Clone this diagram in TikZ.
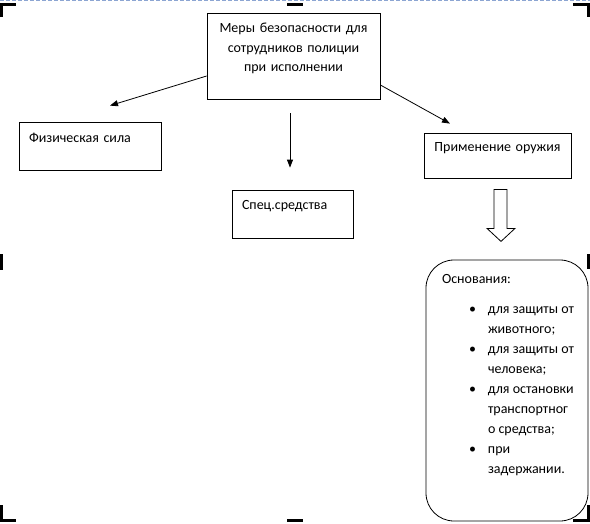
\documentclass[tikz,border=0pt]{standalone}
\usepackage{fontspec}
\setmainfont{Carlito}
\usepackage{tikz}
\usetikzlibrary{positioning,arrows.meta}
\definecolor{ramka}{RGB}{140,165,210}

\begin{document}
\begin{tikzpicture} [x=1pt, y=-1pt, line width=0.8pt,
                    font=\fontsize{14}{19.5}\selectfont,
                    blok/.style={draw,rectangle,inner xsep=10pt,inner ysep=4pt,execute at end node={\\[-8pt]\strut}},
                    strel/.style={-{Triangle[length=8pt,width=6pt]}},
                    metka/.style={line width=3pt}]

\useasboundingbox (0,0) rectangle (590,523);

\node[blok, align=center, text width=153pt, minimum height=86pt] (mery) at (293.5,56)
    {Меры безопасности для\\сотрудников полиции\\при исполнении};
\node[blok, align=left, text width=122pt, minimum height=48pt] (fiz) at (90,146) {Физическая сила};
\node[blok, align=left, text width=101pt, minimum height=48pt] (spec) at (292.5,214) {Спец.средства};
\node[blok, align=center, text width=139pt, inner xsep=4pt, minimum height=45pt] (prim) at (497.5,155.5) {Применение оружия};

 \draw[strel] ([yshift=-20pt]mery.west) -- ([xshift=20pt,yshift=16pt]fiz.north);
 \draw[strel] ([xshift=-3.5pt,yshift=-14pt]mery.south) -- ([xshift=-2.5pt,yshift=22pt]spec.north);
 \draw[strel] ([yshift=-29pt]mery.east) -- ([xshift=-47.5pt,yshift=9pt]prim.north);

% hollow arrow under prim
\draw[shift={(prim.south)}] (-3.5,11) -- (9.5,11) -- (9.5,50) -- (17.5,50) -- (3.5,63)
    -- (-10.5,50) -- (-3.5,50) -- cycle;

\node[draw, rounded corners=28pt, minimum width=162pt, minimum height=261pt] (osn) at (507,390.5) {};
\node[anchor=north west, inner sep=0pt, align=left, font=\fontsize{14}{20}\selectfont] (osntekst)
    at ([xshift=16pt,yshift=-14pt]osn.north west)
    {Основания:\\[10pt]
     \hspace*{27pt}\makebox[19pt][l]{\textbullet}для защиты от\\
     \hspace*{46pt}животного;\\
     \hspace*{27pt}\makebox[19pt][l]{\textbullet}для защиты от\\
     \hspace*{46pt}человека;\\
     \hspace*{27pt}\makebox[19pt][l]{\textbullet}для остановки\\
     \hspace*{46pt}транспортног\\
     \hspace*{46pt}о средства;\\
     \hspace*{27pt}\makebox[19pt][l]{\textbullet}при\\
     \hspace*{46pt}задержании.};

% page marks
\draw[ramka, line width=1pt, dash pattern=on 4pt off 2pt] (0,0.5) -- (590,0.5);
\draw[metka] (1.5,17) -- (1.5,4) -- (16,4);
\draw[metka] (287,4.5) -- (303,4.5);
\draw[metka] (573,4) -- (588.5,4) -- (588.5,17);
\draw[metka] (1.5,254) -- (1.5,270);
\draw[metka] (588.5,254) -- (588.5,269);
\draw[metka] (1.5,505) -- (1.5,520) -- (16,520);
\draw[metka] (287,520) -- (303,520);
\draw[metka] (573,520) -- (588.5,520) -- (588.5,505);
\end{tikzpicture}
\end{document}
